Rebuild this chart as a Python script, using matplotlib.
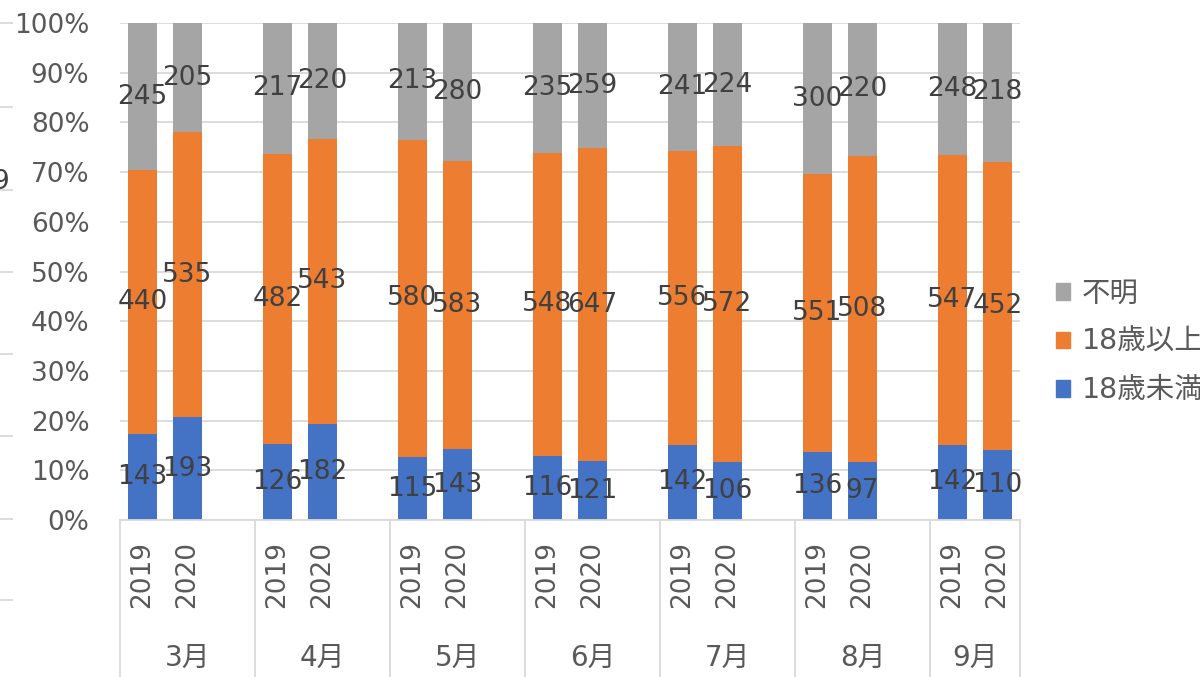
import numpy as np
import matplotlib
matplotlib.use("Agg")
import matplotlib.pyplot as plt
from matplotlib.patches import Patch
from matplotlib.lines import Line2D

plt.rcParams['font.family'] = ['DejaVu Sans', 'Noto Sans CJK JP']

# ---- data ----
months = ['3月', '4月', '5月', '6月', '7月', '8月', '9月']
years = ['2019', '2020']
series = ['18歳未満', '18歳以上', '不明']
colors = ['#4472C4', '#ED7D31', '#A5A5A5']

# counts, one pair (2019, 2020) per month
under18 = [[143, 193], [126, 182], [115, 143], [116, 121], [142, 106], [136, 97], [142, 110]]
over18 = [[440, 535], [482, 543], [580, 583], [548, 647], [556, 572], [551, 508], [547, 452]]
unknown = [[245, 205], [217, 220], [213, 280], [235, 259], [241, 224], [300, 220], [248, 218]]

tick_col = '#595959'
lab_col = '#404040'
grid_col = '#D9D9D9'
fs = 19

fig = plt.figure(figsize=(12, 6.77), dpi=100)
ax = fig.add_axes([0.1, 1 - 520 / 677, 0.75, 497 / 677])

n_slots = 3 * len(months) - 1
bw = 0.63
for m in range(len(months)):
    for j in range(len(years)):
        x = 3 * m + j + 0.5
        vals = [under18[m][j], over18[m][j], unknown[m][j]]
        tot = float(sum(vals))
        bottom = 0.0
        for v, c in zip(vals, colors):
            h = v / tot
            ax.bar(x, h, bw, bottom=bottom, color=c, linewidth=0, zorder=2)
            ax.text(x, bottom + h / 2, str(v), ha='center', va='center',
                    fontsize=fs, color=lab_col, zorder=3)
            bottom += h
        ax.text(x, -0.042, years[j], rotation=90, ha='center', va='top',
                fontsize=fs, color=tick_col, transform=ax.get_xaxis_transform())
    # month label centered on group
    gstart = 3 * m
    gend = min(3 * m + 3, n_slots)
    ax.text((gstart + gend) / 2, -0.278, months[m], ha='center', va='center',
            fontsize=20, color=tick_col, transform=ax.get_xaxis_transform())

# group separators below the axis
for b in list(range(0, n_slots, 3)) + [n_slots]:
    ax.plot([b, b], [0, -0.33], color=grid_col, lw=1.3, clip_on=False,
            transform=ax.get_xaxis_transform())

ax.set_xlim(0, n_slots)
ax.set_ylim(0, 1)
ax.set_yticks(np.arange(0, 1.01, 0.1))
ax.set_yticklabels([f'{int(round(t * 100))}%' for t in np.arange(0, 1.01, 0.1)],
                   fontsize=fs, color=tick_col)
ax.set_xticks([])
ax.tick_params(axis='y', length=0, pad=22)
ax.yaxis.grid(True, color=grid_col, lw=1.3, zorder=0)
ax.set_axisbelow(True)
for s in ['left', 'right', 'top']:
    ax.spines[s].set_visible(False)
ax.spines['bottom'].set_color(grid_col)
ax.spines['bottom'].set_linewidth(1.3)

# legend (reversed order: top is 不明)
handles = [Patch(color=c, label=s) for s, c in zip(series, colors)][::-1]
fig.legend(handles=handles, loc='center left', bbox_to_anchor=(1056 / 1200, 1 - 342 / 677),
           frameon=False, fontsize=20.5, labelcolor=tick_col, handlelength=0.5,
           handleheight=0.5, handletextpad=0.42, labelspacing=0.72, borderaxespad=0,
           borderpad=0)

# remnants of the neighbouring chart at the left edge
for yp in [23, 107, 190, 272, 354, 436, 519, 600]:
    fig.add_artist(Line2D([0, 12 / 1200], [1 - yp / 677] * 2, color=grid_col, lw=1.3))
fig.text(-8 / 1200, 1 - 182 / 677, '9', fontsize=fs, color=lab_col, ha='left', va='center')

fig.savefig('out.png', dpi=100)
